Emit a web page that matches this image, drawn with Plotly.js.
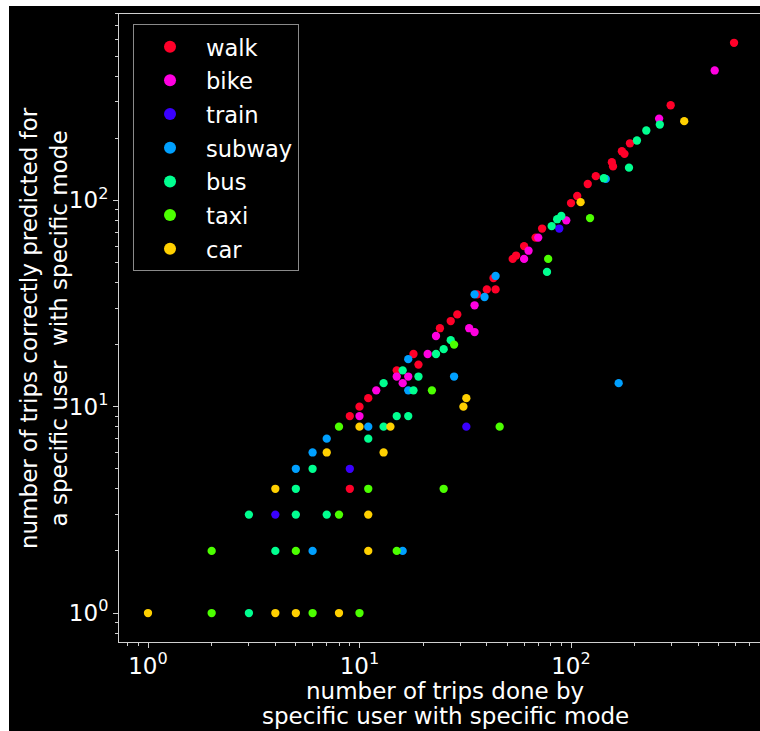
<!DOCTYPE html>
<html><head><meta charset="utf-8">
<script src="https://cdn.plot.ly/plotly-3.0.1.min.js"></script>
<style>
html,body{margin:0;padding:0;background:#ffffff;overflow:hidden;width:760px;height:731px;}
#chart{position:absolute;left:9px;top:6px;width:762px;height:725px;}
</style></head><body><div id="chart"></div>
<script>
// categories (modes) in drawing order
const categories = ['walk','bike','train','subway','bus','taxi','car'];
const colors = ['#ff0029','#ff00e0','#3a00ff','#00a0ff','#00ff90','#4cff00','#ffd000'];

// number of trips done (x) and correctly predicted (y) per mode
const walkX = [9,9,10,11,15,18,19,24,27,29,36,40,44,43,53,55,60,68,73,100,107,120,131,156,158,174,179,190,296,590];
const walkY = [4,9,10,11,15,18,16,24,26,28,35,37,37,42,52,54,60,66,73,97,105,120,131,153,146,173,168,189,289,580];

const bikeX = [10,12,15,16,17,21,23,33,35,35,60,63,70,95,261,478];
const bikeY = [9,12,14,13,14,18,22,24,23,31,52,57,66,80,249,426];

const trainX = [4,9,32,88];
const trainY = [3,5,8,73];

const subwayX = [5,6,6,7,11,16,17,17,28,35,39,44,146,168];
const subwayY = [5,2,6,7,8,2,12,17,14,35,34,43,127,13];

const busX = [3,3,4,5,5,6,7,11,13,13,15,16,17,18,19,23,25,27,77,81,86,90,143,188,205,227,263];
const busY = [1,3,2,3,4,5,3,7,8,13,9,15,9,12,14,18,19,21,45,75,81,84,128,144,195,218,233];

const taxiX = [2,2,5,6,8,8,10,11,15,22,25,28,46,78,123];
const taxiY = [1,2,2,1,3,8,1,4,2,12,4,20,8,52,82];

const carX = [1,4,4,5,7,8,10,11,11,13,14,31,32,111,343];
const carY = [1,1,4,1,6,1,8,2,3,6,8,10,11,98,242];

const seriesX = [walkX, bikeX, trainX, subwayX, busX, taxiX, carX];
const seriesY = [walkY, bikeY, trainY, subwayY, busY, taxiY, carY];

// tick labels and axis titles
const majorTicks = [1, 10, 100];
const majorTickText = ['10<sup>0</sup>','10<sup>1</sup>','10<sup>2</sup>'];
const minorTicks = [0.8,0.9,2,3,4,5,6,7,8,9,20,30,40,50,60,70,80,90,200,300,400,500,600,700,800,900];
const xTitleLines = ['number of trips done by', 'specific user with specific mode'];
const yTitleText = 'number of trips correctly predicted for<br>a specific user \u00a0with specific mode';

const FONT = 'DejaVu Sans, sans-serif';
const TXT = 23;
const traces = categories.map((name, i) => ({
  type: 'scatter', mode: 'markers', name: name,
  x: seriesX[i], y: seriesY[i],
  legendgroup: name,
  marker: {color: colors[i], size: 8.3, line: {width: 0}},
  hoverinfo: 'skip'
}));

function axis(range) {
  return {
    type: 'log', range: range,
    showgrid: false, zeroline: false,
    showline: true, linecolor: '#d0d0d0', linewidth: 1,
    ticks: 'outside', ticklen: 5, tickwidth: 1, tickcolor: '#d0d0d0',
    tickmode: 'array', tickvals: majorTicks, ticktext: majorTickText,
    tickfont: {family: FONT, size: TXT, color: '#ffffff'},
    minor: {tickmode: 'array', tickvals: minorTicks, ticks: 'outside', ticklen: 3, tickwidth: 1, tickcolor: '#d0d0d0', showgrid: false},
    automargin: false
  };
}

const xa = axis([-0.1371, 2.9456]);
xa.mirror = true;
xa.ticklabelstandoff = -2;
const ya = axis([-0.1404, 2.903]);

const titleFont = {family: FONT, size: TXT, color: '#ffffff'};
const annotations = [
  {xref: 'paper', yref: 'paper', x: 0.5, y: -0.078, xanchor: 'center', yanchor: 'middle',
   text: xTitleLines[0], showarrow: false, font: titleFont},
  {xref: 'paper', yref: 'paper', x: 0.5, y: -0.1177, xanchor: 'center', yanchor: 'middle',
   text: xTitleLines[1], showarrow: false, font: titleFont},
  {xref: 'paper', yref: 'paper', x: -0.115, y: 0.5, xanchor: 'center', yanchor: 'middle',
   text: yTitleText, textangle: -90, showarrow: false, font: titleFont}
];

const layout = {
  width: 762, height: 725,
  margin: {l: 110, r: 0, t: 7.5, b: 89},
  paper_bgcolor: '#000000', plot_bgcolor: '#000000',
  xaxis: xa, yaxis: ya,
  annotations: annotations,
  showlegend: true,
  legend: {
    x: 0.0215, y: 0.9833, xanchor: 'left', yanchor: 'top',
    bgcolor: '#000000', bordercolor: '#8a8a8a', borderwidth: 1,
    font: {family: FONT, size: 22.6, color: '#ffffff'},
    itemsizing: 'constant', itemwidth: 62, tracegroupgap: 1.3,
    traceorder: 'grouped'
  },
  font: {family: FONT, color: '#ffffff'}
};

Plotly.newPlot('chart', traces, layout, {displayModeBar: false, staticPlot: true});
</script></body></html>
